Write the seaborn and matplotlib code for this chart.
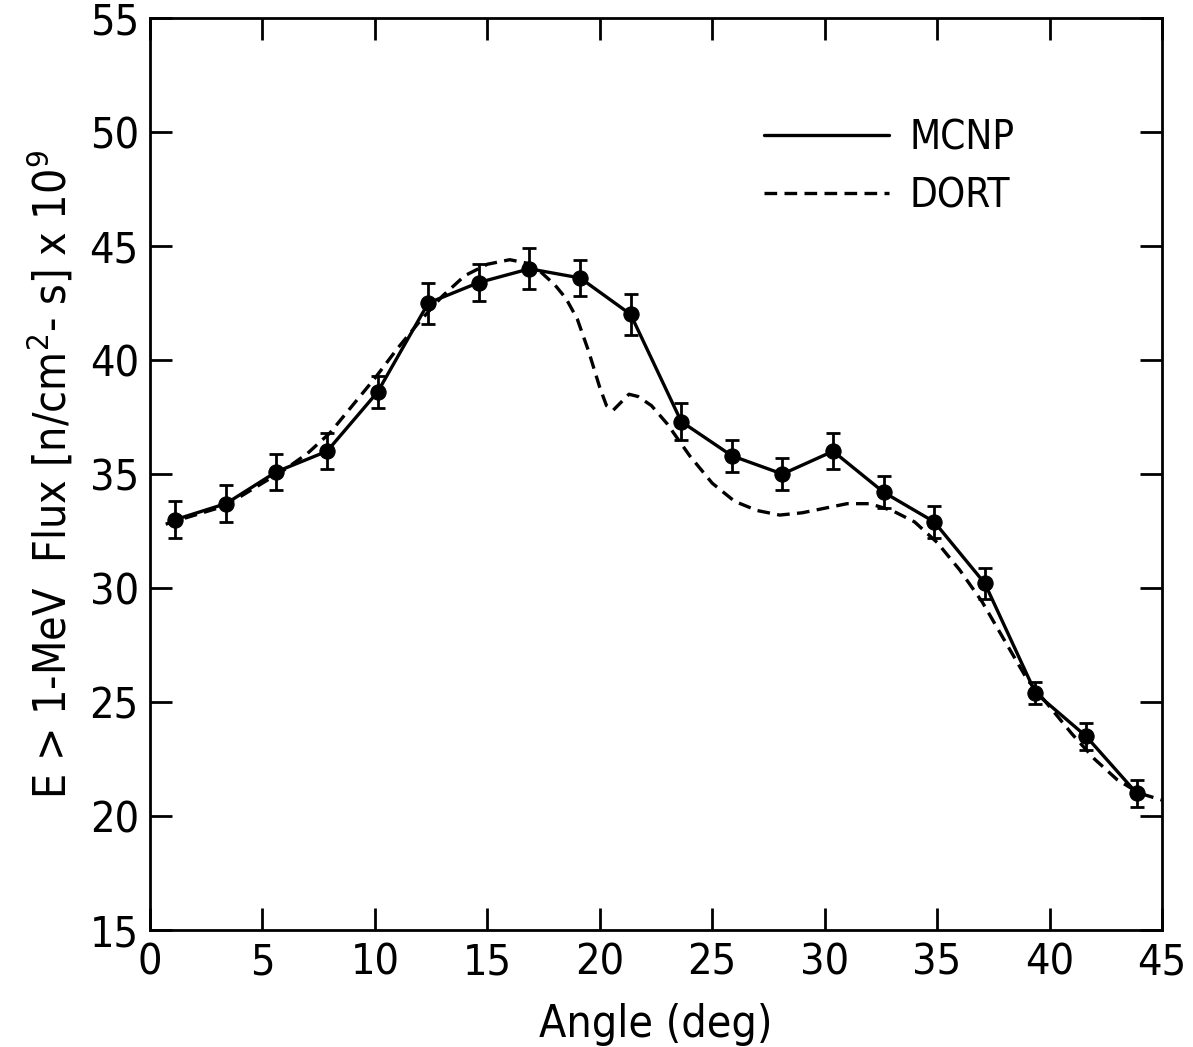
import numpy as np
import pandas as pd
import seaborn as sns
import matplotlib.pyplot as plt
from matplotlib import font_manager

# MCNP results (with 1-sigma error bars)
mcnp_angle = [1.125, 3.375, 5.625, 7.875, 10.125, 12.375, 14.625, 16.875, 19.125, 21.375,
              23.625, 25.875, 28.125, 30.375, 32.625, 34.875, 37.125, 39.375, 41.625, 43.875]
mcnp_flux = [33.0, 33.7, 35.1, 36.0, 38.6, 42.5, 43.4, 44.0, 43.6, 42.0,
             37.3, 35.8, 35.0, 36.0, 34.2, 32.9, 30.2, 25.4, 23.5, 21.0]
mcnp_err = [0.8, 0.8, 0.8, 0.8, 0.7, 0.9, 0.8, 0.9, 0.8, 0.9,
            0.8, 0.7, 0.7, 0.8, 0.7, 0.7, 0.7, 0.5, 0.6, 0.6]

# DORT curve
dort_angle = [0.7, 1, 2, 3, 4, 5, 6, 7, 8, 9, 10, 11, 12, 13, 14, 15, 16, 17, 18, 18.5, 19,
              19.5, 20, 20.3, 20.6, 20.9, 21.3, 21.7, 22.3, 23, 24, 25, 26, 27, 28, 29, 30,
              31, 32, 33, 34, 35, 36, 37, 38, 39, 40, 41, 42, 43, 44, 45]
dort_flux = [32.8, 32.9, 33.2, 33.5, 34.0, 34.6, 35.2, 35.9, 36.8, 38.0, 39.2, 40.5, 41.7,
             42.8, 43.7, 44.2, 44.4, 44.2, 43.3, 42.7, 41.8, 40.4, 38.8, 38.0, 37.8, 38.1,
             38.5, 38.4, 38.0, 37.2, 35.8, 34.6, 33.8, 33.4, 33.2, 33.3, 33.5, 33.7, 33.7,
             33.4, 32.9, 32.0, 30.8, 29.4, 27.7, 26.0, 24.8, 23.6, 22.5, 21.6, 21.0, 20.7]

mcnp = pd.DataFrame({'angle': mcnp_angle, 'flux': mcnp_flux})
dort = pd.DataFrame({'angle': dort_angle, 'flux': dort_flux})

sns.set_style('ticks')
names = {f.name for f in font_manager.fontManager.ttflist}
fam = 'Liberation Sans Narrow' if 'Liberation Sans Narrow' in names else 'DejaVu Sans'
plt.rcParams['font.family'] = [fam, 'DejaVu Sans']
plt.rcParams['font.stretch'] = 'condensed'
plt.rcParams['mathtext.fontset'] = 'custom'
plt.rcParams['mathtext.rm'] = f'{fam}:stretch=condensed'
plt.rcParams['text.color'] = 'black'
plt.rcParams['axes.labelcolor'] = 'black'

fig = plt.figure(figsize=(11.93, 10.47), dpi=100)
ax = fig.add_axes([0.1257, 0.1117, 0.8483, 0.8711])

sns.lineplot(data=mcnp, x='angle', y='flux', ax=ax, color='black', lw=2.4,
             marker='o', markersize=11, markeredgecolor='black', label='MCNP')
sns.lineplot(data=dort, x='angle', y='flux', ax=ax, color='black', lw=2.4,
             linestyle=(0, (3.8, 2.2)), label='DORT')
ax.errorbar(mcnp_angle, mcnp_flux, yerr=mcnp_err, fmt='none', ecolor='black',
            elinewidth=2, capsize=5, capthick=2)

ax.set_xlim(0, 45)
ax.set_ylim(15, 55)
ax.set_xticks(range(0, 46, 5))
ax.set_yticks(range(15, 56, 5))
ax.tick_params(direction='in', length=16, width=2, labelsize=31, pad=8,
               top=True, right=True, colors='black')
for s in ax.spines.values():
    s.set_linewidth(2)
    s.set_color('black')

ax.set_xlabel('Angle (deg)', fontsize=32, labelpad=14)
ax.set_ylabel(r'E > 1-MeV  Flux [n/cm$^{2}$- s] x 10$^{9}$', fontsize=32, labelpad=10)

leg = ax.legend(loc='upper right', bbox_to_anchor=(0.89, 0.93), frameon=False,
                fontsize=29, handlelength=3.1, handletextpad=0.5, labelspacing=0.45)
leg.legend_handles[0].set_marker('')

fig.savefig('out.png', dpi=100)
